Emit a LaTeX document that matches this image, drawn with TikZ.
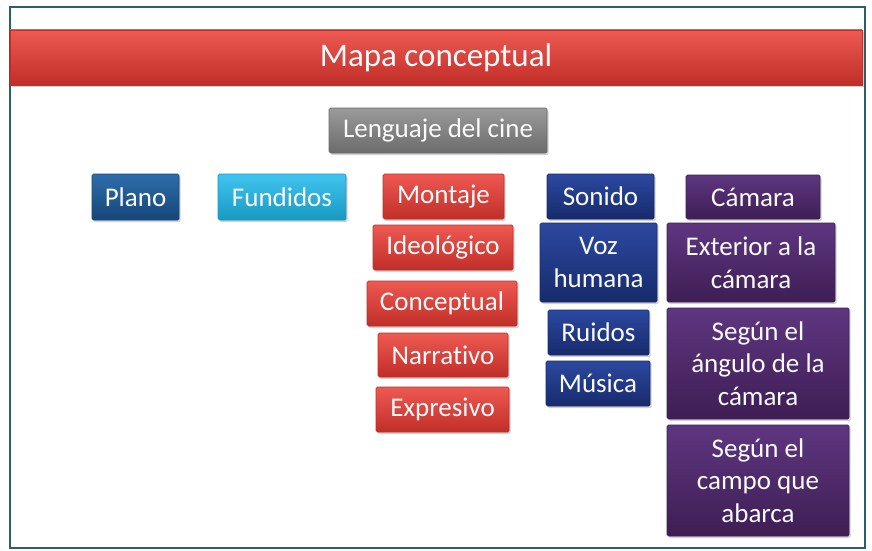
\documentclass[tikz,border=0pt]{standalone}
\usepackage{fontspec}
\setmainfont{Carlito}[Ligatures=NoCommon]
\usetikzlibrary{shadows}
\definecolor{frameC}{HTML}{2B5F6B}
\definecolor{redT}{HTML}{EE5A52}\definecolor{redM}{HTML}{E53E36}\definecolor{redB}{HTML}{C02E28}
\definecolor{grayT}{HTML}{9A9A9A}\definecolor{grayM}{HTML}{858585}\definecolor{grayB}{HTML}{6C6C6C}
\definecolor{planT}{HTML}{2E6DAA}\definecolor{planM}{HTML}{1F5A94}\definecolor{planB}{HTML}{164677}
\definecolor{fundT}{HTML}{40C4EE}\definecolor{fundM}{HTML}{1EB4E2}\definecolor{fundB}{HTML}{1899C4}
\definecolor{sonT}{HTML}{2C49A0}\definecolor{sonM}{HTML}{21398A}\definecolor{sonB}{HTML}{172A6C}
\definecolor{purT}{HTML}{5E3680}\definecolor{purM}{HTML}{50296A}\definecolor{purB}{HTML}{3E1E54}
\begin{document}
\begin{tikzpicture}[x=1pt,y=-1pt,
  box/.style={rectangle, inner sep=0pt, align=center, text=white!96!gray,
    font=\fontsize{27}{32.5}\selectfont, rounded corners=1.5pt, line width=0.7pt,
    drop shadow={opacity=0.35, shadow xshift=1.5pt, shadow yshift=-2pt}},
  redbox/.style={box, draw=redB, top color=redT, middle color=redM, bottom color=redB},
  graybox/.style={box, draw=grayB, top color=grayT, middle color=grayM, bottom color=grayB},
  planbox/.style={box, draw=planB, top color=planT, middle color=planM, bottom color=planB},
  fundbox/.style={box, draw=fundB, top color=fundT, middle color=fundM, bottom color=fundB},
  sonbox/.style={box, draw=sonB, top color=sonT, middle color=sonM, bottom color=sonB},
  purbox/.style={box, draw=purB, top color=purT, middle color=purM, bottom color=purB}]
\useasboundingbox (0,0) rectangle (872,551);
\fill[white] (0,0) rectangle (872,551);
\draw[frameC, line width=1.3pt] (10,7) rectangle (865,548);
\node[redbox, rounded corners=0pt, minimum width=852pt, minimum height=55pt, font=\fontsize{33}{38}\selectfont] (title) at (436,57.5) {Mapa conceptual};
\node[graybox, minimum width=218pt, minimum height=45pt] (leng) at (438,130.5) {Lenguaje del cine};
\node[planbox, minimum width=87pt, minimum height=46pt] (plano) at (135.5,197) {Plano};
\node[fundbox, minimum width=128pt, minimum height=46pt] (fund) at (282,197) {Fundidos};
\node[redbox, minimum width=121pt, minimum height=45pt] (mont) at (443.5,196.5) {Montaje};
\node[redbox, minimum width=140pt, minimum height=45pt] (ideo) at (443,247.5) {Ideológico};
\node[redbox, minimum width=150pt, minimum height=45pt] (conc) at (442,303.5) {Conceptual};
\node[redbox, minimum width=130pt, minimum height=44pt] (narr) at (443,355) {Narrativo};
\node[redbox, minimum width=133pt, minimum height=45pt] (expr) at (442.5,409.5) {Expresivo};
\node[sonbox, minimum width=107pt, minimum height=45pt] (son) at (600.5,196.5) {Sonido};
\node[sonbox, minimum width=117pt, minimum height=79pt] (voz) at (598.5,262.5) {Voz\\humana};
\node[sonbox, minimum width=101pt, minimum height=45pt] (ruid) at (598.5,332.5) {Ruidos};
\node[sonbox, minimum width=104pt, minimum height=45pt] (mus) at (598,383.5) {Música};
\node[purbox, minimum width=134pt, minimum height=44pt] (cam) at (753,197) {Cámara};
\node[purbox, minimum width=168pt, minimum height=79pt] (ext) at (751,262.5) {Exterior a la\\cámara};
\node[purbox, minimum width=182pt, minimum height=111pt] (ang) at (758,363.5) {Según el\\ángulo de la\\cámara};
\node[purbox, minimum width=182pt, minimum height=111pt] (campo) at (758,480.5) {Según el\\campo que\\abarca};
\end{tikzpicture}
\end{document}
